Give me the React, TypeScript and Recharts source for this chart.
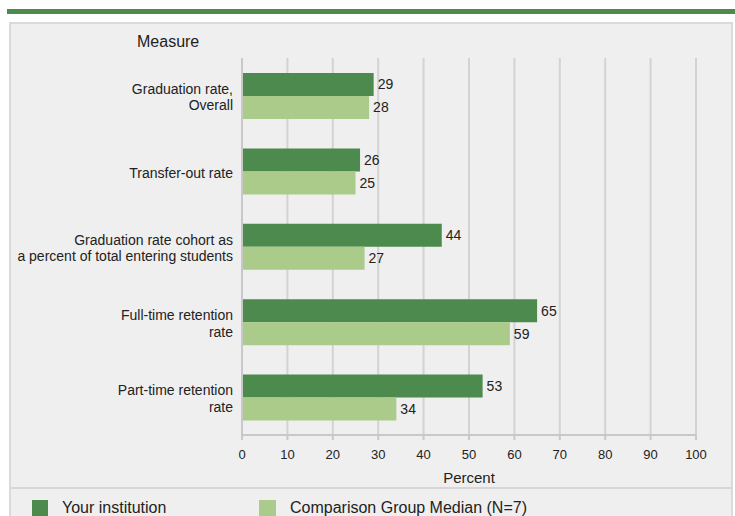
// Retention / graduation measures vs comparison group - horizontal bars
import { BarChart, Bar, XAxis, YAxis, CartesianGrid, LabelList } from 'recharts';

const categories = [
  'Graduation rate,\nOverall',
  'Transfer-out rate',
  'Graduation rate cohort as\na percent of total entering students',
  'Full-time retention\nrate',
  'Part-time retention\nrate',
];
const yourInstitution = [29, 26, 44, 65, 53];
const comparisonMedian = [28, 25, 27, 59, 34];
const percentTicks = [0, 10, 20, 30, 40, 50, 60, 70, 80, 90, 100];

const DARK = '#4d8a4e';
const LIGHT = '#aacb8a';
const FONT = '"Liberation Sans", Arial, sans-serif';

const data = categories.map((measure, i) => ({
  measure,
  yours: yourInstitution[i],
  median: comparisonMedian[i],
}));

function MeasureTick(props: any) {
  const { x, y, payload } = props;
  const lines = String(payload.value).split('\n');
  const lh = 16.5;
  const start = y + 1.5 - ((lines.length - 1) * lh) / 2;
  return (
    <text x={x - 1} y={start} textAnchor="end" fontSize={14} fill="#222" fontFamily={FONT}>
      {lines.map((l, i) => (
        <tspan key={i} x={x - 1} y={start + i * lh} dy="0.35em">
          {l}
        </tspan>
      ))}
    </text>
  );
}

export default function App() {
  return (
    <div style={{ position: 'absolute', left: 0, top: 0, width: 735, height: 516, background: '#fff', overflow: 'hidden', fontFamily: FONT }}>
      <div style={{ position: 'absolute', left: 7, top: 9, width: 728, height: 5, background: DARK }} />
      <div style={{ position: 'absolute', left: 9, top: 22, width: 720, height: 500, background: '#efefef', border: '2px solid #dadada' }} />
      <div style={{ position: 'absolute', left: 137, top: 33, fontSize: 16, color: '#222' }}>Measure</div>
      <div style={{ position: 'absolute', left: 0, top: 0 }}>
        <BarChart
          width={735}
          height={500}
          data={data}
          layout="vertical"
          margin={{ top: 58, right: 39, bottom: 24, left: 10 }}
          barCategoryGap="19%"
          barGap={0}
        >
          <CartesianGrid horizontal={false} stroke="#d3d3d3" strokeWidth={2} />
          <XAxis
            type="number"
            domain={[0, 100]}
            ticks={percentTicks}
            height={41}
            stroke="#c8c8c8"
            strokeWidth={2}
            tickSize={5}
            tick={{ fill: '#222', fontSize: 13, fontFamily: FONT }}
            tickMargin={10}
            label={{ value: 'Percent', position: 'insideBottom', offset: -7, fill: '#222', fontSize: 15, fontFamily: FONT }}
          />
          <YAxis
            type="category"
            dataKey="measure"
            width={232}
            stroke="#c8c8c8"
            strokeWidth={2}
            tickLine={false}
            tick={<MeasureTick />}
          />
          <Bar dataKey="yours" fill={DARK} barSize={23} isAnimationActive={false}>
            <LabelList dataKey="yours" position="right" offset={4} fill="#222" fontSize={14} fontFamily={FONT} />
          </Bar>
          <Bar dataKey="median" fill={LIGHT} barSize={23} isAnimationActive={false}>
            <LabelList dataKey="median" position="right" offset={4} fill="#222" fontSize={14} fontFamily={FONT} />
          </Bar>
        </BarChart>
      </div>
      <div style={{ position: 'absolute', left: 11, top: 487, width: 720, height: 2, background: '#d6d6d6' }} />
      <div style={{ position: 'absolute', left: 32, top: 500, width: 16, height: 20, background: DARK }} />
      <div style={{ position: 'absolute', left: 62, top: 499, fontSize: 16, color: '#222' }}>Your institution</div>
      <div style={{ position: 'absolute', left: 259, top: 500, width: 17, height: 20, background: LIGHT }} />
      <div style={{ position: 'absolute', left: 290, top: 499, fontSize: 16, color: '#222' }}>Comparison Group Median (N=7)</div>
    </div>
  );
}
